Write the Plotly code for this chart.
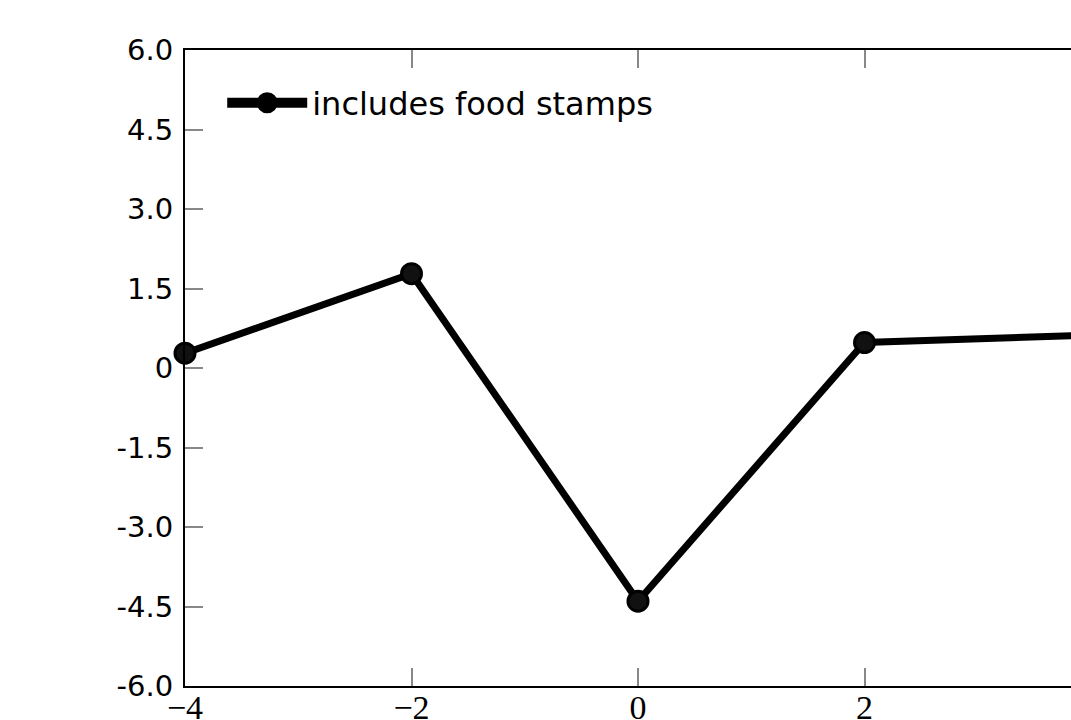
import plotly.graph_objects as go

x_vals = [-4, -2, 0, 2, 4]
y_vals = [0.28, 1.78, -4.4, 0.48, 0.62]
series_name = "includes food stamps"
y_tickvals = [-6, -4.5, -3, -1.5, 0, 1.5, 3, 4.5, 6]
y_ticktext = ["-6.0", "-4.5", "-3.0", "-1.5", "0", "1.5", "3.0", "4.5", "6.0"]
x_tickvals = [-4, -2, 0, 2, 4]
x_ticktext = ["\u22124", "\u22122", "0", "2", "4"]

fig = go.Figure()
fig.add_trace(go.Scatter(
    x=x_vals, y=y_vals, mode="lines+markers", name=series_name,
    line=dict(color="black", width=7),
    marker=dict(color="#111111", size=20, line=dict(color="black", width=3)),
    cliponaxis=False, showlegend=False,
))
# legend entry (thicker sample line, as in the reference legend)
fig.add_trace(go.Scatter(
    x=[None], y=[None], mode="lines+markers", name=series_name,
    line=dict(color="black", width=13),
    marker=dict(color="black", size=22, line=dict(color="black", width=5)),
    showlegend=True,
))

fig.update_layout(
    template="none",
    width=1071, height=720,
    margin=dict(l=185, r=0, t=50, b=34, autoexpand=False),
    paper_bgcolor="white", plot_bgcolor="white",
    showlegend=True,
    legend=dict(x=0.042, y=0.96, xanchor="left", yanchor="top",
                font=dict(family="DejaVu Sans", size=32, color="black"),
                bgcolor="rgba(0,0,0,0)", itemwidth=80),
    xaxis=dict(range=[-4, (1071 - 185) / 113.25 - 4], tickvals=x_tickvals, ticktext=x_ticktext,
               automargin=False,
               showgrid=False, zeroline=False, showline=True, linecolor="black", linewidth=2,
               mirror="ticks", ticks="inside", ticklen=18, tickcolor="#888888", tickwidth=1.5,
               ticklabelstandoff=-10,
               tickfont=dict(family="Liberation Serif", size=34, color="black")),
    yaxis=dict(range=[-6, 6], tickvals=y_tickvals, ticktext=y_ticktext,
               automargin=False,
               showgrid=False, zeroline=False, showline=True, linecolor="black", linewidth=2,
               mirror=False, ticks="inside", ticklen=18, tickcolor="#888888", tickwidth=1.5,
               ticklabelstandoff=4,
               tickfont=dict(family="DejaVu Sans", size=29, color="black")),
)
fig.write_html("out.html", config={"displayModeBar": False},
               post_script="document.body.style.margin='0';document.body.style.overflow='hidden';")
